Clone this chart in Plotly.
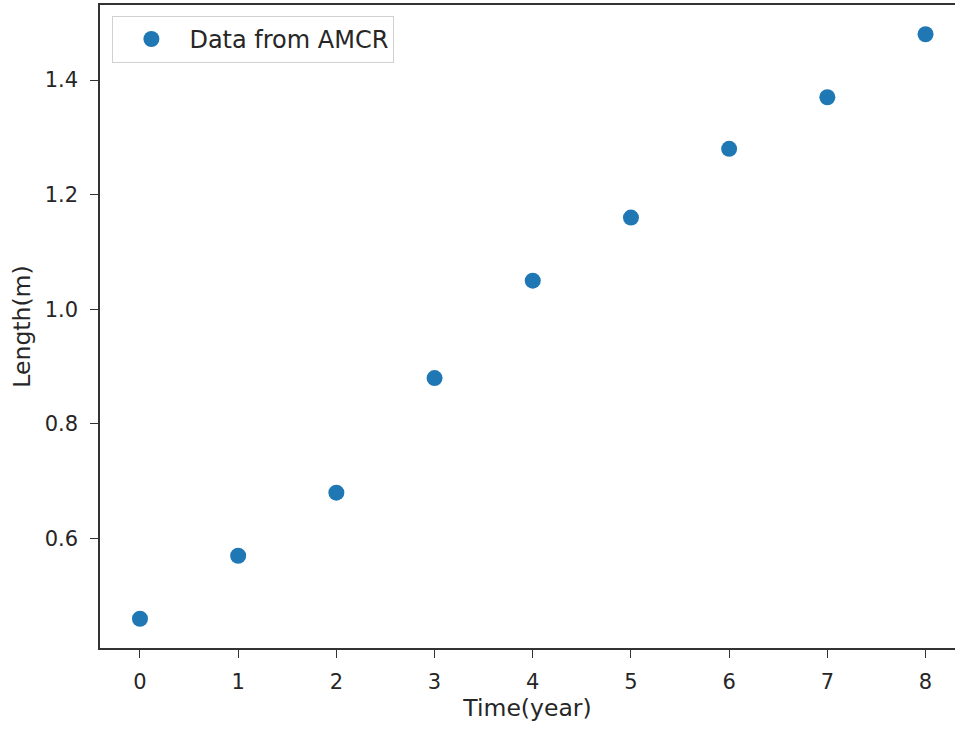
import plotly.graph_objects as go

time_years = [0, 1, 2, 3, 4, 5, 6, 7, 8]
length_m = [0.46, 0.57, 0.68, 0.88, 1.05, 1.16, 1.28, 1.37, 1.48]
x_ticks = [0, 1, 2, 3, 4, 5, 6, 7, 8]
y_ticks = [0.6, 0.8, 1.0, 1.2, 1.4]
y_tick_labels = ["0.6", "0.8", "1.0", "1.2", "1.4"]

FONT = "DejaVu Sans"
TXT = "#262626"
AX = "#333333"
FS_TICK = 21
FS_TITLE = 23.5
FS_LEG = 24

fig = go.Figure()
fig.add_trace(go.Scatter(
    x=time_years, y=length_m, mode="markers",
    name="Data from AMCR",
    marker=dict(color="#1f77b4", size=16, line=dict(width=0)),
))

fig.update_layout(
    width=955, height=729,
    margin=dict(l=100, r=0, t=5, b=81, autoexpand=False),
    paper_bgcolor="white", plot_bgcolor="white",
    font=dict(family=FONT, size=FS_TICK, color=TXT),
    showlegend=True,
    legend=dict(
        x=0.0145, y=0.983, xanchor="left", yanchor="top",
        bgcolor="white", bordercolor="#d0d0d0", borderwidth=1,
        font=dict(size=FS_LEG, color=TXT, family=FONT),
        itemwidth=66,
    ),
    xaxis=dict(
        range=[-0.407, 8.3], tickvals=x_ticks,
        showgrid=False, zeroline=False,
        showline=True, linecolor=AX, linewidth=1.5, mirror=True,
        ticks="outside", ticklen=8, tickwidth=1.3, tickcolor=AX,
        tickfont=dict(size=FS_TICK, color=TXT, family=FONT),
        ticklabelstandoff=6,
        title=dict(text="Time(year)", font=dict(size=FS_TITLE, color=TXT, family=FONT), standoff=6),
    ),
    yaxis=dict(
        range=[0.409, 1.531], tickvals=y_ticks, ticktext=y_tick_labels,
        showgrid=False, zeroline=False,
        showline=True, linecolor=AX, linewidth=1.5, mirror=False,
        ticks="outside", ticklen=8, tickwidth=1.3, tickcolor=AX,
        tickfont=dict(size=FS_TICK, color=TXT, family=FONT),
        ticklabelstandoff=8,
        title=dict(text="Length(m)", font=dict(size=FS_TITLE, color=TXT, family=FONT), standoff=7),
    ),
)

fig.write_html("out.html")
